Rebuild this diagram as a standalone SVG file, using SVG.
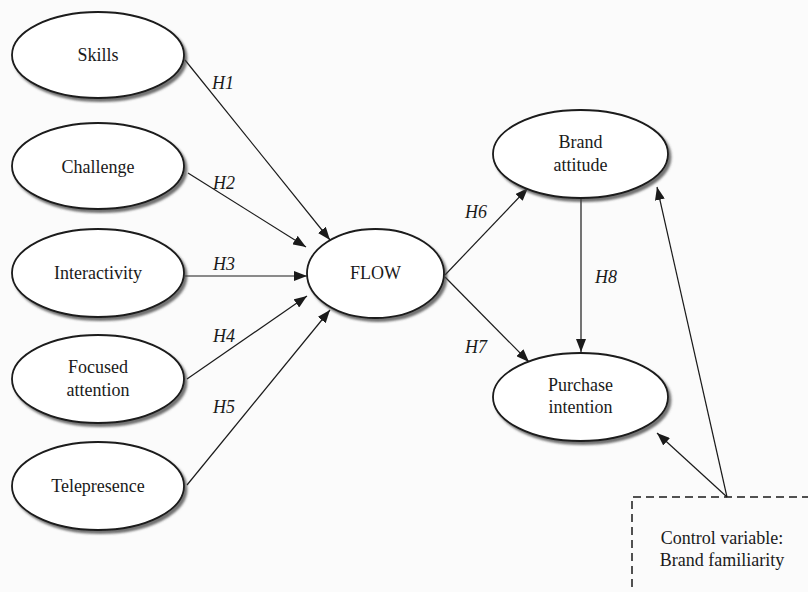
<svg xmlns="http://www.w3.org/2000/svg" width="808" height="592" viewBox="0 0 808 592">
<style>
  .node ellipse { fill: #ffffff; stroke: #1a1a1a; stroke-width: 1.8; filter: url(#shadow); }
  text { font-family: 'Liberation Serif', 'Times New Roman', Tinos, 'DejaVu Serif', serif; font-size: 18px; fill: #1a1a1a; text-anchor: middle; }
  .h { font-style: italic; }
  .edge { stroke: #1a1a1a; stroke-width: 1.2; fill: none; marker-end: url(#arrow); }
  .box { fill: none; stroke: #1a1a1a; stroke-width: 1.5; stroke-dasharray: 8 5; }
</style>
<defs>
  <filter id="shadow" x="-10%" y="-10%" width="125%" height="130%">
    <feDropShadow dx="2.5" dy="3" stdDeviation="1.2" flood-color="#444444" flood-opacity="0.75"/>
  </filter>
  <marker id="arrow" markerUnits="userSpaceOnUse" markerWidth="13" markerHeight="10" refX="13" refY="5" orient="auto">
    <path d="M0,0 L13,5 L0,10 z" fill="#1a1a1a"/>
  </marker>
</defs>
<rect x="0" y="0" width="808" height="592" fill="#fbfbfb"/>

<g id="connectors">
  <line class="edge" x1="185" y1="60" x2="330" y2="240"/>
  <line class="edge" x1="188" y1="173" x2="306" y2="247"/>
  <line class="edge" x1="185" y1="276" x2="307" y2="276"/>
  <line class="edge" x1="187" y1="379" x2="307" y2="296"/>
  <line class="edge" x1="187" y1="485" x2="330" y2="310"/>
  <line class="edge" x1="445" y1="275" x2="528" y2="188"/>
  <line class="edge" x1="445" y1="277" x2="529" y2="362"/>
  <line class="edge" x1="581" y1="199" x2="581" y2="352"/>
  <line class="edge" x1="727" y1="497" x2="657" y2="187"/>
  <line class="edge" x1="727" y1="497" x2="657" y2="433"/>
  <text class="h" x="223" y="89" font-family="Liberation Serif, serif">H1</text>
  <text class="h" x="224" y="189" font-family="Liberation Serif, serif">H2</text>
  <text class="h" x="224" y="270" font-family="Liberation Serif, serif">H3</text>
  <text class="h" x="224" y="342" font-family="Liberation Serif, serif">H4</text>
  <text class="h" x="224" y="413" font-family="Liberation Serif, serif">H5</text>
  <text class="h" x="476" y="218" font-family="Liberation Serif, serif">H6</text>
  <text class="h" x="476" y="353" font-family="Liberation Serif, serif">H7</text>
  <text class="h" x="606" y="283" font-family="Liberation Serif, serif">H8</text>
</g>

<g id="skills" class="node">
  <ellipse cx="98" cy="55" rx="86" ry="43"/>
  <text x="98" y="61">Skills</text>
</g>
<g id="challenge" class="node">
  <ellipse cx="98" cy="166" rx="86" ry="43"/>
  <text x="98" y="173">Challenge</text>
</g>
<g id="interactivity" class="node">
  <ellipse cx="98" cy="273" rx="86" ry="44"/>
  <text x="98" y="279">Interactivity</text>
</g>
<g id="focused-attention" class="node">
  <ellipse cx="98" cy="379" rx="86" ry="44"/>
  <text x="98" y="373">Focused</text>
  <text x="98" y="396">attention</text>
</g>
<g id="telepresence" class="node">
  <ellipse cx="98" cy="486" rx="86" ry="44"/>
  <text x="98" y="492">Telepresence</text>
</g>
<g id="flow" class="node">
  <ellipse cx="375.5" cy="273.5" rx="68.5" ry="44.5"/>
  <text x="375.5" y="279">FLOW</text>
</g>
<g id="brand-attitude" class="node">
  <ellipse cx="580.5" cy="154" rx="87.5" ry="44"/>
  <text x="580.5" y="148">Brand</text>
  <text x="580.5" y="171">attitude</text>
</g>
<g id="purchase-intention" class="node">
  <ellipse cx="580.5" cy="397" rx="87.5" ry="44"/>
  <text x="580.5" y="391">Purchase</text>
  <text x="580.5" y="413">intention</text>
</g>
<g id="control-variable">
  <path class="box" d="M632,600 L632,497 L812,497"/>
  <text x="722" y="544">Control variable:</text>
  <text x="722" y="566">Brand familiarity</text>
</g>
</svg>
